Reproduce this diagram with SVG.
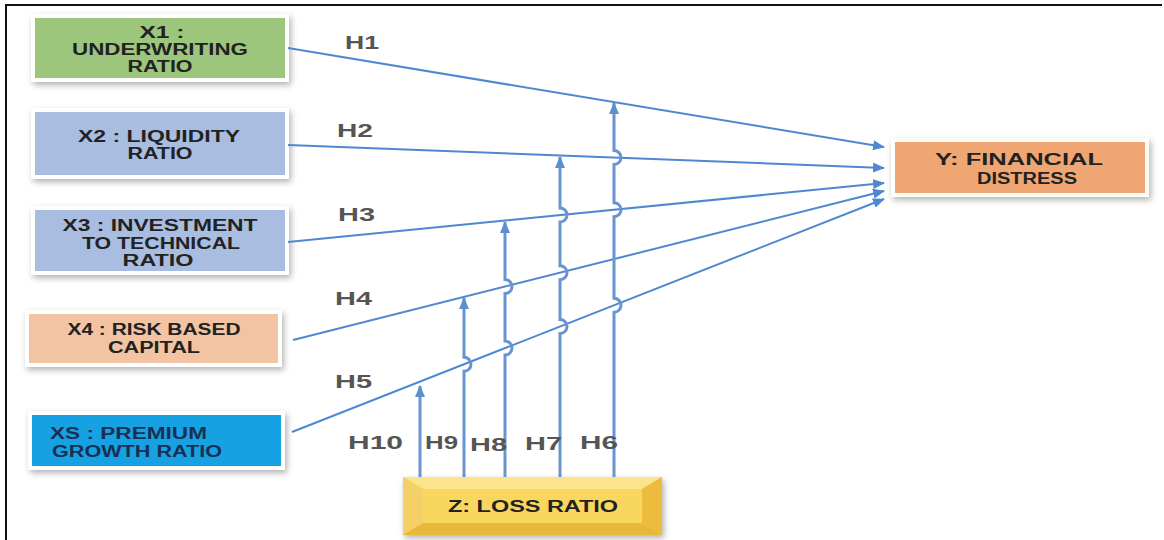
<svg xmlns="http://www.w3.org/2000/svg" width="1164" height="540" viewBox="0 0 1164 540">
<defs>
<style>
.box{stroke:#ffffff;stroke-width:4;filter:url(#sh)}
.bt{font-family:"Liberation Sans",Arial,sans-serif;font-weight:bold;font-size:16px;fill:#222222;text-anchor:middle}
.lbl{font-family:"Liberation Sans",Arial,sans-serif;font-weight:bold;font-size:18px;fill:#555555}
.ln{fill:none;stroke:#4f88d2;stroke-width:2}
.vl{fill:none;stroke:#6894cf;stroke-width:3}
</style>
<filter id="sh" x="-10%" y="-20%" width="120%" height="150%">
<feDropShadow dx="2" dy="3" stdDeviation="3" flood-color="#000" flood-opacity="0.3"/>
</filter>
<marker id="ah" markerUnits="userSpaceOnUse" markerWidth="12" markerHeight="10" viewBox="0 0 12 10" refX="11" refY="5" orient="auto">
<path d="M0,0 L12,5 L0,10 Z" fill="#4f88d2"/>
</marker>
<marker id="av" markerUnits="userSpaceOnUse" markerWidth="12" markerHeight="10" viewBox="0 0 12 10" refX="11" refY="5" orient="auto">
<path d="M0,0 L12,5 L0,10 Z" fill="#5b8fd0"/>
</marker>
</defs>
<rect width="1164" height="540" fill="#ffffff"/>
<path d="M6,540 V5 H1162" fill="none" stroke="#111" stroke-width="2"/>

<g id="x1">
<rect class="box" x="33" y="16" width="254" height="64" fill="#9cc67b"/>
<text class="bt" x="162" y="38" textLength="45" lengthAdjust="spacingAndGlyphs">X1 :</text>
<text class="bt" x="160" y="55" textLength="176" lengthAdjust="spacingAndGlyphs">UNDERWRITING</text>
<text class="bt" x="160" y="72" textLength="65" lengthAdjust="spacingAndGlyphs">RATIO</text>
</g>
<g id="x2">
<rect class="box" x="33" y="110" width="254" height="67" fill="#a9bde1"/>
<text class="bt" x="159" y="142" textLength="162" lengthAdjust="spacingAndGlyphs">X2 :  LIQUIDITY</text>
<text class="bt" x="160" y="159" textLength="65" lengthAdjust="spacingAndGlyphs">RATIO</text>
</g>
<g id="x3">
<rect class="box" x="33" y="208" width="254" height="65" fill="#a9bde1"/>
<text class="bt" x="160" y="231" textLength="195" lengthAdjust="spacingAndGlyphs">X3 :  INVESTMENT</text>
<text class="bt" x="161" y="249" textLength="158" lengthAdjust="spacingAndGlyphs">TO TECHNICAL</text>
<text class="bt" x="158" y="266" textLength="71" lengthAdjust="spacingAndGlyphs">RATIO</text>
</g>
<g id="x4">
<rect class="box" x="27" y="312" width="253" height="53" fill="#f2c4a3"/>
<text class="bt" x="154" y="335" textLength="173" lengthAdjust="spacingAndGlyphs">X4 : RISK BASED</text>
<text class="bt" x="154" y="353" textLength="92" lengthAdjust="spacingAndGlyphs">CAPITAL</text>
</g>
<g id="x5">
<rect class="box" x="30" y="413" width="253" height="55" fill="#18a2e2"/>
<text class="bt" x="50" y="439" textLength="157" lengthAdjust="spacingAndGlyphs" style="text-anchor:start;fill:#1b2f55">XS : PREMIUM</text>
<text class="bt" x="52" y="457" textLength="170" lengthAdjust="spacingAndGlyphs" style="text-anchor:start;fill:#1b2f55">GROWTH RATIO</text>
</g>
<g id="y">
<rect class="box" x="893" y="140" width="254" height="55" fill="#f0a673"/>
<text class="bt" x="1019" y="165" textLength="168" lengthAdjust="spacingAndGlyphs">Y:  FINANCIAL</text>
<text class="bt" x="1027" y="184" textLength="100" lengthAdjust="spacingAndGlyphs">DISTRESS</text>
</g>
<g id="z">
<g filter="url(#sh)">
<rect x="403" y="477" width="259" height="58" fill="#f6cd4c"/>
<polygon points="403,477 662,477 642,489 423,489" fill="#fbe48c"/>
<polygon points="403,477 423,489 423,523 403,535" fill="#f4d066"/>
<polygon points="662,477 662,535 642,523 642,489" fill="#ecbd3e"/>
<polygon points="403,535 662,535 642,523 423,523" fill="#e9b83a"/>
<rect x="423" y="489" width="219" height="34" fill="#f9d75f"/>
</g>
<text class="bt" x="533" y="512" textLength="170" lengthAdjust="spacingAndGlyphs">Z: LOSS RATIO</text>
</g>

<g id="connectors">
<line class="ln" x1="288" y1="48" x2="884" y2="147" marker-end="url(#ah)"/>
<line class="ln" x1="288" y1="145" x2="884" y2="168" marker-end="url(#ah)"/>
<line class="ln" x1="288" y1="242" x2="884" y2="183" marker-end="url(#ah)"/>
<line class="ln" x1="293" y1="340" x2="884" y2="191" marker-end="url(#ah)"/>
<line class="ln" x1="292" y1="432" x2="884" y2="199" marker-end="url(#ah)"/>

<path class="vl" d="M614,477 V312.3 A7,7 0 0 0 614,298.3 V216.7 A7,7 0 0 0 614,202.7 V164.6 A7,7 0 0 0 614,150.6 V103" marker-end="url(#av)"/>
<path class="vl" d="M560,477 V333.5 A7,7 0 0 0 560,319.5 V279.7 A7,7 0 0 0 560,265.7 V222 A7,7 0 0 0 560,208 V157" marker-end="url(#av)"/>
<path class="vl" d="M505,477 V355 A7,7 0 0 0 505,341 V293.6 A7,7 0 0 0 505,279.6 V222" marker-end="url(#av)"/>
<path class="vl" d="M464,477 V371.3 A7,7 0 0 0 464,357.3 V298" marker-end="url(#av)"/>
<path class="vl" d="M420,477 V386" marker-end="url(#av)"/>

<text class="lbl" x="345" y="49" textLength="34" lengthAdjust="spacingAndGlyphs">H1</text>
<text class="lbl" x="337" y="137" textLength="36" lengthAdjust="spacingAndGlyphs">H2</text>
<text class="lbl" x="338" y="221" textLength="37" lengthAdjust="spacingAndGlyphs">H3</text>
<text class="lbl" x="335" y="305" textLength="37" lengthAdjust="spacingAndGlyphs">H4</text>
<text class="lbl" x="335" y="388" textLength="37" lengthAdjust="spacingAndGlyphs">H5</text>
<text class="lbl" x="348" y="449" textLength="55" lengthAdjust="spacingAndGlyphs">H10</text>
<text class="lbl" x="425" y="449" textLength="33" lengthAdjust="spacingAndGlyphs">H9</text>
<text class="lbl" x="470" y="451" textLength="37" lengthAdjust="spacingAndGlyphs">H8</text>
<text class="lbl" x="525" y="450" textLength="37" lengthAdjust="spacingAndGlyphs">H7</text>
<text class="lbl" x="580" y="449" textLength="38" lengthAdjust="spacingAndGlyphs">H6</text>
</g>
</svg>
